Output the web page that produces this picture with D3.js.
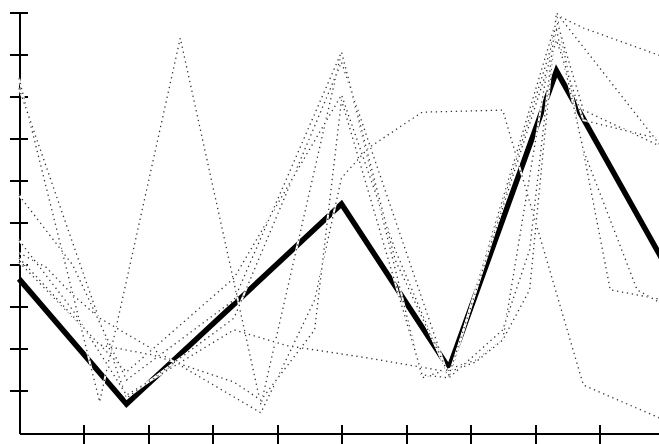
<!DOCTYPE html>
<html>
<head>
<meta charset="utf-8">
<script src="https://cdn.jsdelivr.net/npm/d3@7"></script>
<style>
  html, body { margin: 0; padding: 0; background: #fff; }
  svg { display: block; }
</style>
</head>
<body>
<svg id="chart" width="659" height="444"></svg>
<script>
// Tick positions on each axis (no labels are drawn)
const xTicks = [0.6, 1.2, 1.8, 2.4, 3.0, 3.6, 4.2, 4.8, 5.4];
const yTicks = [1, 2, 3, 4, 5, 6, 7, 8, 9, 10];

// Highlighted series: one value per step
const mainSeries = [3.66, 0.69, 3.06, 5.44, 1.54, 8.60, 4.05];

// Background series as [x, value] pairs
const seriesA = [[0,8.43],[0.75,0.74],[1.5,9.38],[2.25,0.67],[3,9.05],[3.75,1.31],[4.25,1.73],[4.5,2.21],[5,9.98],[5.5,3.40],[6,3.16]];
const seriesB = [[0,8.19],[1,0.83],[2,2.73],[3,8.81],[4,1.31],[5,9.81],[5.25,7.67],[6,6.77]];
const seriesC = [[0,4.28],[0.25,3.94],[0.5,3.28],[0.75,2.73],[2.25,0.48],[2.75,3.16],[3,6.06],[3.25,6.77],[3.75,7.62],[4.5,7.67],[5.25,1.14],[6,0.31]];
const seriesD = [[0,4.58],[0.5,2.92],[1,0.90],[2,2.45],[2.5,2.07],[3.25,1.78],[4,1.45],[4.25,1.69],[4.5,2.21],[4.75,3.40],[5,9.93],[5.25,9.62],[6,8.93]];
const seriesE = [[0,4.06],[1,1.45],[2,3.68],[3,8.03],[3.5,4.35],[4,1.31],[5,9.57],[5.25,6.72],[5.75,3.40],[6,3.04]];
const seriesF = [[0,5.65],[0.5,3.99],[1,1.26],[2,3.16],[3,9.05],[3.5,4.11],[4,1.38],[5,9.33],[5.25,7.43],[6,6.96]];
const seriesG = [[0,4.16],[0.75,2.09],[1.25,1.85],[2,1.21],[2.25,0.78],[2.75,2.45],[3,7.91],[3.75,1.38],[4,1.31],[4.5,2.45],[4.75,4.35],[5,9.98],[6,6.72]];

const background = [seriesA, seriesB, seriesC, seriesD, seriesE, seriesF, seriesG];

const svg = d3.select("#chart");
const width = 659, height = 444;
const originX = 19, originY = 433;

const x = d3.scaleLinear().domain([0, 6]).range([originX, 664]);
const y = d3.scaleLinear().domain([0, 10]).range([originY, 12]);

svg.append("rect").attr("width", width).attr("height", height).attr("fill", "#fff");

// Axes: ticks cross the axis line on both sides
const yAxis = svg.append("g")
  .attr("transform", `translate(${originX},0)`)
  .call(d3.axisLeft(y).tickValues(yTicks).tickSize(9).tickSizeOuter(0).tickFormat(""));
yAxis.selectAll(".tick line").attr("x1", 9).attr("x2", -9);

const xAxis = svg.append("g")
  .attr("transform", `translate(0,${originY})`)
  .call(d3.axisBottom(x).tickValues(xTicks).tickSize(11).tickSizeOuter(0).tickFormat(""));
xAxis.selectAll(".tick line").attr("y1", -8).attr("y2", 11);

svg.selectAll(".domain, .tick line")
  .attr("stroke", "#000")
  .attr("stroke-width", 2)
  .attr("shape-rendering", "crispEdges");

const line = d3.line().x(d => x(d[0])).y(d => y(d[1]));

// Highlighted series, thick solid stroke
svg.append("path")
  .datum(mainSeries.map((v, i) => [i, v]))
  .attr("d", line)
  .attr("fill", "none")
  .attr("stroke", "#000")
  .attr("stroke-width", 5.5)
  .attr("stroke-linejoin", "miter");

// Background series: opaque dotted strokes (white gaps paint over what lies below)
background.forEach(s => {
  svg.append("path")
    .datum(s)
    .attr("d", line)
    .attr("fill", "none")
    .attr("stroke", "#fff")
    .attr("stroke-width", 2);
  svg.append("path")
    .datum(s)
    .attr("d", line)
    .attr("fill", "none")
    .attr("stroke", "#333")
    .attr("stroke-width", 1.3)
    .attr("stroke-dasharray", "1.3 3.7");
});
</script>
</body>
</html>
